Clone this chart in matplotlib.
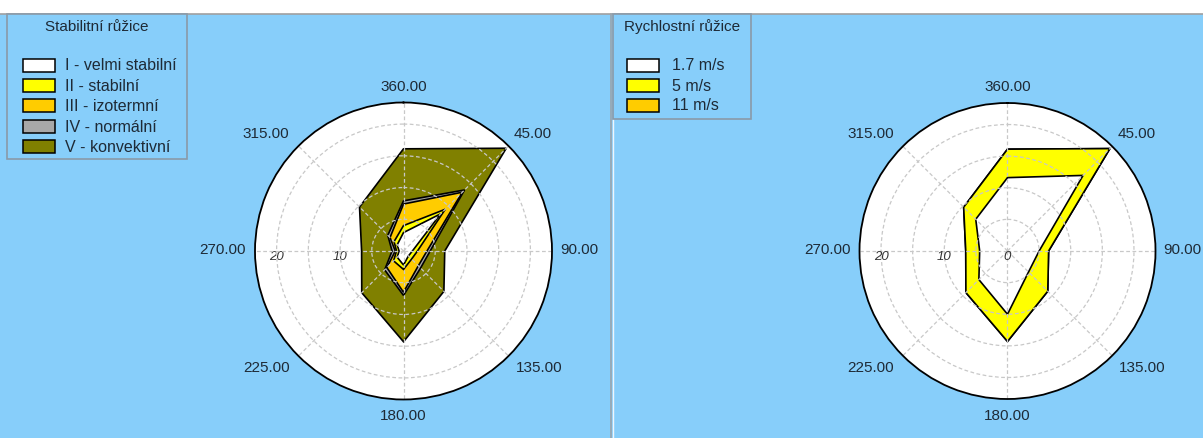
import numpy as np
import matplotlib.pyplot as plt
from matplotlib.patches import Rectangle
from matplotlib.lines import Line2D

# canvas size in pixels
W, H = 1203, 439

# directions and labels
directions = [0, 45, 90, 135, 180, 225, 270, 315]
dir_labels = ['360.00', '45.00', '90.00', '135.00', '180.00', '225.00', '270.00', '315.00']
ring_values = [20, 10, 0]
RMAX = 23.4

# stability rose - cumulative radius per class
stab_names = ['I - velmi stabilní', 'II - stabilní', 'III - izotermní',
              'IV - normální', 'V - konvektivní']
stab_I = [2.9, 8.3, 1.4, 1.1, 2.2, 1.4, 0.7, 1.4]
stab_II = [4.0, 9.3, 2.2, 1.8, 2.9, 2.2, 1.1, 2.1]
stab_III = [7.4, 13.1, 3.7, 3.3, 6.5, 3.7, 1.3, 3.0]
stab_IV = [7.9, 13.6, 4.2, 3.8, 7.0, 4.2, 1.8, 3.5]
stab_V = [16.1, 22.9, 6.5, 9.0, 14.3, 9.3, 6.6, 9.8]
stab_colors = ['#ffffff', '#ffff00', '#ffcc00', '#a8a8a8', '#808000']

# speed rose - cumulative radius per class
speed_names = ['1.7 m/s', '5 m/s', '11 m/s']
speed_17 = [11.6, 16.9, 5.0, 4.7, 10.0, 6.4, 4.4, 7.1]
speed_5 = [16.1, 22.9, 6.5, 9.0, 14.3, 9.3, 6.6, 9.8]
speed_11 = [16.1, 22.9, 6.5, 9.0, 14.3, 9.3, 6.6, 9.8]
speed_colors = ['#ffffff', '#ffff00', '#ffcc00']

BLUE = '#87cefa'
TXT = '#1e2a36'
FONT = 'Liberation Sans'
PX = 0.72  # points per pixel at dpi 100


def fx(x):
    return x / W


def fy(y):
    return 1 - y / H


def draw_rose(fig, cx, cy, rad, layers, colors, labels_on_top):
    ax = fig.add_axes([fx(cx - rad), fy(cy + rad), 2 * rad / W, 2 * rad / H],
                      projection='polar')
    ax.set_zorder(1)
    ax.set_theta_zero_location('N')
    ax.set_theta_direction(-1)
    ax.set_ylim(0, RMAX)
    ax.set_facecolor('white')
    ax.set_yticks([5, 10, 15, 20])
    ax.set_yticklabels([])
    ax.set_xticks(np.deg2rad(directions))
    ax.set_xticklabels([])
    ax.grid(True, color='#c8c8c8', ls=(0, (3, 2)), lw=0.9)
    ax.spines['polar'].set_color('black')
    ax.spines['polar'].set_linewidth(1.3)
    ax.tick_params(axis='x', direction='out', length=4, width=1, color='black')
    ax.tick_params(axis='y', length=0)

    th = np.deg2rad(directions + [directions[0]])
    # outermost first, inner layers painted over it
    for vals, c in reversed(list(zip(layers, colors))):
        r = list(vals) + [vals[0]]
        ax.fill(th, r, facecolor=c, edgecolor='black', lw=1.2, zorder=1)

    z = 3 if labels_on_top else 0.5
    for v in ring_values:
        ax.annotate(str(v), xy=(np.deg2rad(270), v), xytext=(0, -5 * PX),
                    textcoords='offset points', ha='center', va='center',
                    fontsize=9.5, style='italic', color='#333333', family=FONT,
                    zorder=z)

    # angle labels around the circle (offsets in px)
    offs = {0: (0, 10, 'center', 'bottom'),
            45: (5, 13, 'left', 'center'),
            90: (8, 2, 'left', 'center'),
            135: (7, -11, 'left', 'center'),
            180: (0, -9, 'center', 'top'),
            225: (-9, -11, 'right', 'center'),
            270: (-9, 2, 'right', 'center'),
            315: (-9, 13, 'right', 'center')}
    for d, lab in zip(directions, dir_labels):
        dx, dy, ha, va = offs[d]
        ax.annotate(lab, xy=(np.deg2rad(d), RMAX), xytext=(dx * PX, dy * PX),
                    textcoords='offset points', ha=ha, va=va, fontsize=11,
                    color=TXT, family=FONT, annotation_clip=False)
    return ax


def draw_legend(fig, x0, x1, y1, title, names, colors, sw_x, text_x, ys):
    fig.patches.append(Rectangle((fx(x0), fy(y1)), (x1 - x0) / W, (y1 - 15) / H,
                                 transform=fig.transFigure, facecolor=BLUE,
                                 edgecolor='#8a9aa8', lw=1.2, zorder=2))
    fig.text(fx((x0 + x1) / 2), fy(27), title, ha='center', va='center',
             fontsize=11, color=TXT, family=FONT, zorder=3)
    for name, c, y in zip(names, colors, ys):
        fig.patches.append(Rectangle((fx(sw_x), fy(y + 6.5)), 32 / W, 13 / H,
                                     transform=fig.transFigure, facecolor=c,
                                     edgecolor='black', lw=1.1, zorder=3))
        fig.text(fx(text_x), fy(y), name, ha='left', va='center', fontsize=11.5,
                 color=TXT, family=FONT, zorder=3)


fig = plt.figure(figsize=(W / 100, H / 100), dpi=100, facecolor='white')

# panel backgrounds
fig.patches.append(Rectangle((0, 0), 1, fy(14.5), transform=fig.transFigure,
                             facecolor=BLUE, edgecolor='none', zorder=-5))
fig.lines.append(Line2D([0, 1], [fy(14.5), fy(14.5)], transform=fig.transFigure,
                        color='#a0a0a0', lw=1.2, zorder=-4))
fig.lines.append(Line2D([fx(611), fx(611)], [0, fy(14.5)], transform=fig.transFigure,
                        color='#9aa4ac', lw=1.2, zorder=-4))
fig.lines.append(Line2D([fx(612.5), fx(612.5)], [0, fy(14.5)], transform=fig.transFigure,
                        color='#eef6fc', lw=1.0, zorder=-4))

draw_rose(fig, 403.5, 252, 148.5,
          [stab_I, stab_II, stab_III, stab_IV, stab_V], stab_colors, False)
draw_rose(fig, 1007.5, 252, 148,
          [speed_17, speed_5, speed_11], speed_colors, True)

draw_legend(fig, 7, 187, 160, 'Stabilitní růžice', stab_names, stab_colors,
            23, 65, [66, 86.5, 106.5, 127, 147])
draw_legend(fig, 613, 751, 120, 'Rychlostní růžice', speed_names, speed_colors,
            627, 672, [66, 86.5, 106])

fig.savefig('out.png', dpi=100, facecolor=fig.get_facecolor())
